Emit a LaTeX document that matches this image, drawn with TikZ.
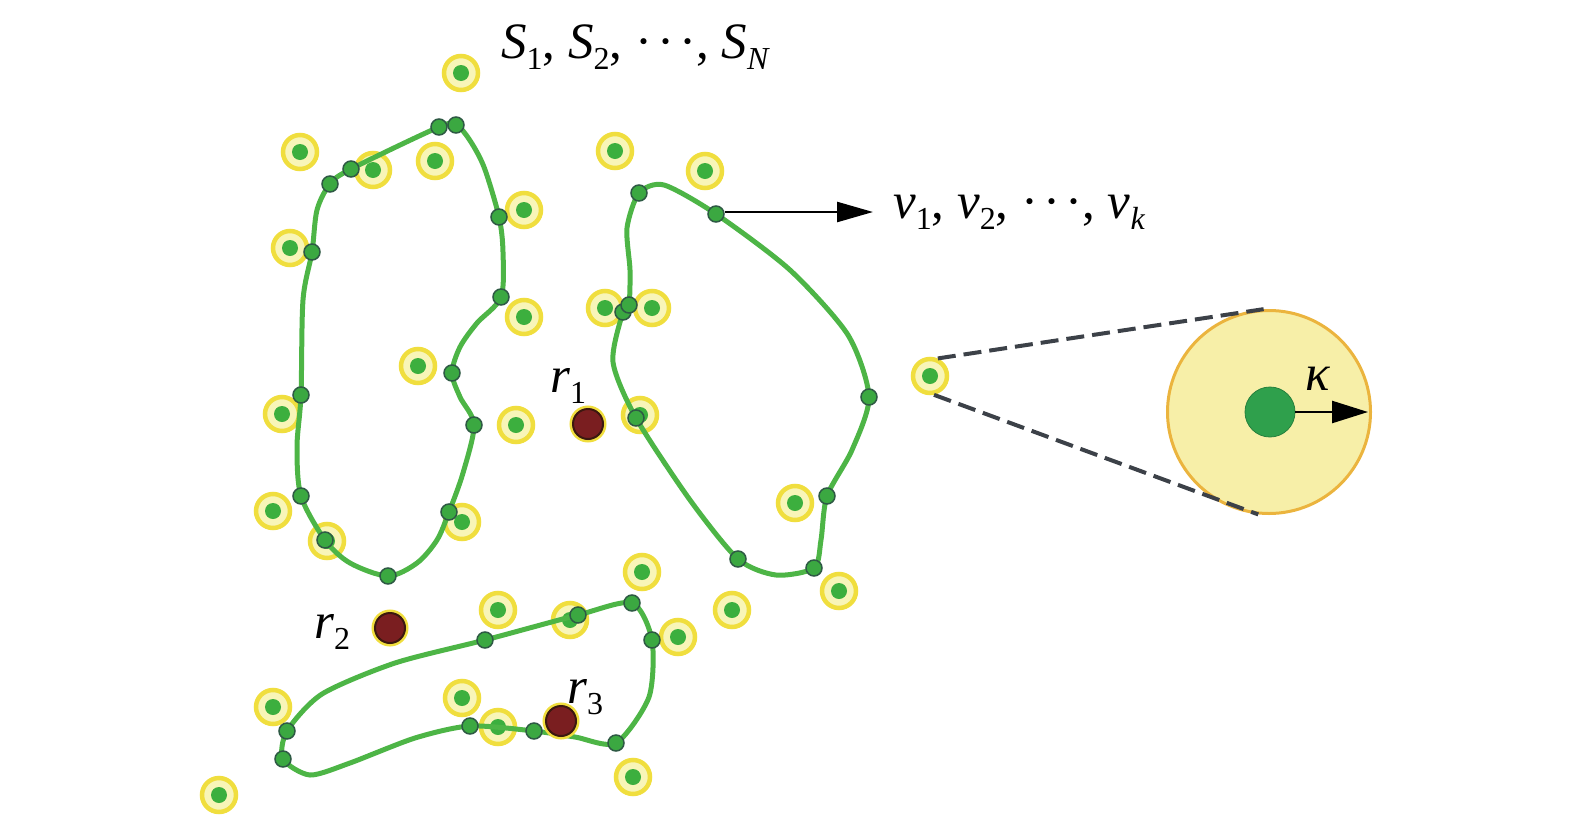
\documentclass[tikz,border=0pt]{standalone}
\usepackage{fontspec}
\setmainfont{Liberation Serif}
\usetikzlibrary{arrows.meta}
\definecolor{ringY}{HTML}{F0DE3E}
\definecolor{paleY}{HTML}{F8F5B8}
\definecolor{dotG}{HTML}{3CAF3E}
\definecolor{lineG}{HTML}{4DB546}
\definecolor{nodeG}{HTML}{3BA841}
\definecolor{nodeB}{HTML}{2E5A44}
\definecolor{robR}{HTML}{7A1E20}
\definecolor{robB}{HTML}{3C1810}
\definecolor{dashC}{HTML}{3C4148}
\definecolor{bigF}{HTML}{F7EFA8}
\definecolor{bigB}{HTML}{EBB43E}
\definecolor{kG}{HTML}{2FA04C}
\newcommand\sbs[1]{\raisebox{-11pt}{\fontsize{32}{32}\selectfont #1}}
\newcommand\mdots{·\kern5pt·\kern5pt·}
\tikzset{
  sensor/.style={circle, minimum size=34pt, inner sep=0pt, draw=ringY, line width=4.5pt, fill=paleY,
    path picture={\fill[dotG] (path picture bounding box.center) circle (8pt);}},
  cnode/.style={circle, minimum size=16pt, inner sep=0pt, fill=nodeG, draw=nodeB, line width=1.5pt},
  robot/.style={circle, minimum size=30pt, inner sep=0pt, fill=robR, draw=robB, line width=2pt,
    preaction={draw=ringY, line width=7pt}},
  contour/.style={draw=lineG, line width=5pt},
  lbl/.style={inner sep=0pt, font=\fontsize{51}{60}\selectfont},
  arr/.style={line width=2.5pt, -{Triangle[length=36pt,width=20pt]}},
  dash line/.style={draw=dashC, line width=4pt, dash pattern=on 18pt off 8pt},
}
\begin{document}
\begin{tikzpicture}[x=1pt,y=-1pt]
\useasboundingbox (0,0) rectangle (1575,817);
% sensors
\foreach \n/\p in {s1/{461,73},s2/{300,152},s3/{373,170},s4/{435,161},s5/{524,210},s6/{290,248},
  s7/{524,317},s8/{418,366},s9/{282,414},s10/{516,425},s11/{273,511},s12/{462,522},s13/{327,541},
  s14/{615,151},s15/{705,171},s16/{605,308},s17/{652,308},s18/{640,415},s19/{795,503},s20/{930,376},
  s21/{839,591},s22/{732,610},s23/{642,572},s24/{498,610},s25/{570,620},s26/{678,637},
  s27/{273,707},s28/{462,698},s29/{498,727},s30/{633,777},s31/{219,795}}
  \node[sensor] (\n) at (\p) {};

% contour A (left)
\coordinate (a1) at (330,184); \coordinate (a2) at (351,169); \coordinate (a3) at (439,127);
\coordinate (a4) at (456,125); \coordinate (a5) at (499,217); \coordinate (a6) at (501,297);
\coordinate (a7) at (452,373); \coordinate (a8) at (474,425); \coordinate (a9) at (449,512);
\coordinate (a10) at (388,576); \coordinate (a11) at (325,540); \coordinate (a12) at (301,496);
\coordinate (a13) at (301,395); \coordinate (a14) at (312,252);
\draw[contour] plot[smooth cycle, tension=0.5] coordinates {(a1) (a2) (a3) (a4) (469,139) (484,167) (a5)
  (503,252) (a6) (477,323) (460,347) (a7) (460,397) (a8) (463,473) (a9) (437,540) (417,563) (a10)
  (350,563) (a11) (a12) (297,447) (a13) (303,300) (a14) (317,210)};

% contour B (right)
\coordinate (b1) at (639,193); \coordinate (b2) at (716,214); \coordinate (b3) at (869,397);
\coordinate (b4) at (827,496); \coordinate (b5) at (814,568); \coordinate (b6) at (738,559);
\coordinate (b7) at (636,418); \coordinate (b8) at (623,312); \coordinate (b9) at (629,305);
\draw[contour] plot[smooth cycle, tension=0.45] coordinates {(b1) (664,185) (b2) (790,270)
  (848,335) (b3) (852,450) (b4) (821,540) (b5) (776,575) (b6) (690,500)
  (b7) (613,362) (b8) (b9) (630,270) (627,228)};

% contour C (bottom)
\coordinate (c1) at (287,731); \coordinate (c2) at (485,640); \coordinate (c3) at (578,615);
\coordinate (c4) at (632,603); \coordinate (c5) at (652,640); \coordinate (c6) at (616,743);
\coordinate (c7) at (534,731); \coordinate (c8) at (470,726); \coordinate (c9) at (283,759);
\draw[contour] plot[smooth cycle, tension=0.45] coordinates {(c1) (322,694) (395,663)
  (c2) (c3) (c4) (c5) (649,697) (c6) (575,737) (c7) (c8) (415,738) (350,763) (310,775) (c9)};

% nodes on contours
\foreach \c in {a1,a2,a3,a4,a5,a6,a7,a8,a9,a10,a11,a12,a13,a14,b1,b2,b3,b4,b5,b6,b7,b8,b9,c1,c2,c3,c4,c5,c6,c7,c8,c9}
  \node[cnode] (n\c) at (\c) {};

% robots
\node[robot] (r1) at (588,424) {};
\node[robot] (r2) at (390,628) {};
\node[robot] (r3) at (561,721) {};

% labels
\node[lbl, anchor=base west] (slab) at (501,58) {\textit{S}\sbs{1}, \textit{S}\sbs{2}, \mdots, \textit{S}\sbs{\textit{N}}};
\node[lbl, anchor=base west] (vlab) at (893,218) {\textit{v}\sbs{1}, \textit{v}\sbs{2}, \mdots, \textit{v}\sbs{\textit{k}}};
\node[lbl, anchor=base west] (r1lab) at (550,392) {\textit{r}\sbs{1}};
\node[lbl, anchor=base west] (r2lab) at (314,638) {\textit{r}\sbs{2}};
\node[lbl, anchor=base west] (r3lab) at (567,703) {\textit{r}\sbs{3}};

% arrow to v
\coordinate (vtip) at (873,212);
\draw[arr] (nb2.east |- vtip) -- (vtip);

% magnified sensor
\node[circle, minimum size=203pt, inner sep=0pt, fill=bigF, draw=bigB, line width=3pt] (big) at (1269,412) {};
\node[circle, minimum size=50pt, inner sep=0pt, fill=kG, draw=kG!80!black, line width=0.8pt] (kdot) at (1270,412) {};
\draw[line width=2.5pt, -{Triangle[length=36pt,width=22pt]}] (kdot.east) -- ([xshift=-4pt]big.east);
\node[lbl, anchor=base] (klab) at (1318,390) {\textit{κ}};
\draw[dash line] (s20.66) -- (big.93);
\draw[dash line] (s20.-78) -- (big.-96);
\end{tikzpicture}
\end{document}
